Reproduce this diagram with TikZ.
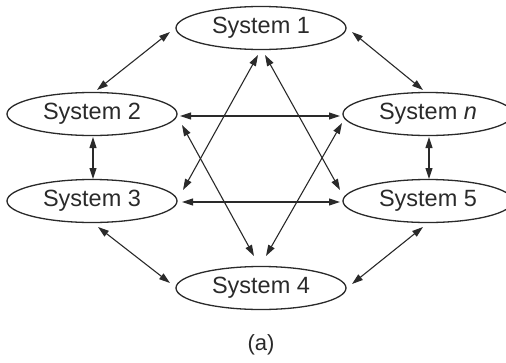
\documentclass[tikz,border=0pt]{standalone}
\usepackage{fontspec}
\setmainfont{Liberation Sans}
\usetikzlibrary{shapes.geometric,arrows.meta,calc}
\definecolor{ink}{HTML}{2A2A2A}
\begin{document}
\begin{tikzpicture}[x=1pt,y=-1pt,
  sysbox/.style={ellipse,draw=ink,line width=1.3pt,minimum width=170pt,minimum height=43pt,inner sep=0pt,text=ink,font=\fontsize{23.5}{26}\selectfont},
  link/.style={draw=ink,line width=1.1pt,{Triangle[length=11pt,width=7pt]}-{Triangle[length=11pt,width=7pt]}}]
\useasboundingbox[fill=white] (0,0) rectangle (506,362);
\node[sysbox] (s1) at (261,28) {System 1};
\node[sysbox] (s2) at (92,114) {System 2};
\node[sysbox] (sn) at (428,114) {System \textit{n}};
\node[sysbox] (s3) at (92,201) {System 3};
\node[sysbox] (s5) at (428,201) {System 5};
\node[sysbox] (s4) at (261,288) {System 4};
\node[text=ink,font=\fontsize{22}{26}\selectfont] (cap) at (261,345) {(a)};
% ring
\draw[link] ($(s1)+(-91,4)$) -- ($(s2)+(5,-24)$);
\draw[link] ($(s1)+(91,4)$) -- ($(sn)+(-5,-24)$);
\draw[link] ($(s2)+(1,23)$) -- ($(s3)+(1,-22)$);
\draw[link] ($(sn)+(1,23)$) -- ($(s5)+(1,-22)$);
\draw[link] ($(s3)+(6,26)$) -- ($(s4)+(-91,-5)$);
\draw[link] ($(s5)+(-5,26)$) -- ($(s4)+(91,-4)$);
% horizontals
\draw[link] ($(s2)+(88,2)$) -- ($(sn)+(-88,2)$);
\draw[link] ($(s3)+(90,1)$) -- ($(s5)+(-88,1)$);
% diagonals
\draw[link] ($(s1)+(-3,27)$) -- ($(s3)+(91,-11)$);
\draw[link] ($(s1)+(4,27)$) -- ($(s5)+(-88,-11)$);
\draw[link] ($(s4)+(-7,-32)$) -- ($(s2)+(90,11)$);
\draw[link] ($(s4)+(5,-32)$) -- ($(sn)+(-86,9)$);
\end{tikzpicture}
\end{document}
